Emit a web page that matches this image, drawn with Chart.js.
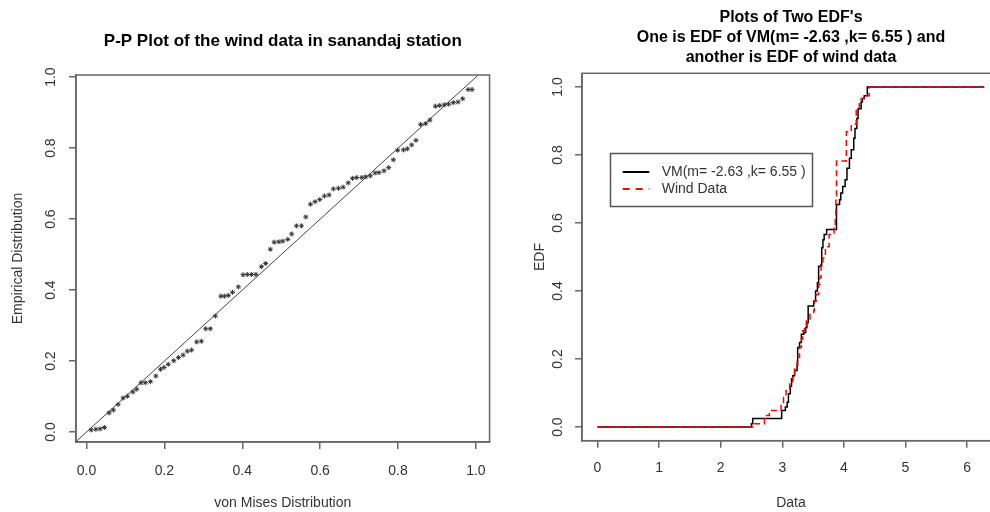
<!DOCTYPE html>
<html>
<head>
<meta charset="utf-8">
<script src="https://cdn.jsdelivr.net/npm/chart.js@4.4.1/dist/chart.umd.min.js"></script>
<style>
    body { margin: 0; background: #ffffff; overflow: hidden; width: 990px; height: 512px; position: relative; }
    #ladoEsquerdo { position: absolute; left: 0; top: 0; width: 500px; height: 512px; }
    #ladoDireito { position: absolute; left: 500px; top: 0; width: 510px; height: 512px; }
</style>
</head>
<body>
<div id="ladoEsquerdo"><canvas id="ppChart"></canvas></div>
<div id="ladoDireito"><canvas id="edfChart"></canvas></div>
<script>
// P-P plot: von Mises CDF (x) against empirical CDF (y)
const ppTeorico = [0.012, 0.024, 0.035, 0.046, 0.058, 0.069, 0.081, 0.094, 0.105, 0.119,
    0.129, 0.140, 0.151, 0.164, 0.178, 0.190, 0.199, 0.210, 0.224, 0.236,
    0.248, 0.259, 0.270, 0.283, 0.295, 0.306, 0.318, 0.331, 0.345, 0.354,
    0.364, 0.375, 0.390, 0.402, 0.413, 0.424, 0.435, 0.449, 0.460, 0.472,
    0.482, 0.494, 0.504, 0.517, 0.527, 0.539, 0.552, 0.563, 0.575, 0.587,
    0.599, 0.611, 0.623, 0.634, 0.647, 0.659, 0.672, 0.683, 0.694, 0.707,
    0.717, 0.729, 0.741, 0.751, 0.764, 0.776, 0.788, 0.799, 0.814, 0.824,
    0.835, 0.846, 0.858, 0.871, 0.882, 0.896, 0.907, 0.919, 0.930, 0.942,
    0.954, 0.966, 0.980, 0.990];
const ppEmpirico = [0.006, 0.008, 0.009, 0.013, 0.054, 0.062, 0.078, 0.096, 0.101, 0.113,
    0.121, 0.139, 0.139, 0.142, 0.158, 0.177, 0.182, 0.191, 0.201, 0.210,
    0.217, 0.228, 0.231, 0.254, 0.256, 0.291, 0.291, 0.327, 0.383, 0.383,
    0.385, 0.394, 0.409, 0.443, 0.444, 0.444, 0.444, 0.466, 0.475, 0.515,
    0.535, 0.536, 0.538, 0.543, 0.558, 0.581, 0.581, 0.606, 0.642, 0.649,
    0.655, 0.665, 0.668, 0.685, 0.687, 0.690, 0.702, 0.715, 0.717, 0.717,
    0.719, 0.722, 0.730, 0.731, 0.736, 0.745, 0.767, 0.794, 0.795, 0.798,
    0.809, 0.822, 0.867, 0.869, 0.879, 0.918, 0.920, 0.922, 0.924, 0.928,
    0.930, 0.939, 0.965, 0.965];
const diagonal = [-0.1, 1.1];
const ppTicks = [0, 0.2, 0.4, 0.6, 0.8, 1.0];

// EDFs (step functions)
const vmX = [0, 2.50, 2.52, 2.99, 3.05, 3.08, 3.10, 3.13, 3.15, 3.17,
    3.20, 3.24, 3.25, 3.28, 3.31, 3.35, 3.38, 3.40, 3.42, 3.51,
    3.54, 3.57, 3.59, 3.63, 3.64, 3.66, 3.68, 3.72, 3.88, 3.93,
    3.95, 3.98, 4.02, 4.05, 4.09, 4.12, 4.16, 4.18, 4.21, 4.23,
    4.28, 4.30, 4.33, 4.38, 6.28];
const vmY = [0, 0.010, 0.025, 0.049, 0.059, 0.073, 0.098, 0.120, 0.142, 0.151,
    0.166, 0.181, 0.234, 0.249, 0.273, 0.278, 0.293, 0.307, 0.356, 0.371,
    0.400, 0.424, 0.473, 0.478, 0.527, 0.551, 0.566, 0.581, 0.654, 0.668,
    0.688, 0.707, 0.727, 0.761, 0.790, 0.815, 0.849, 0.878, 0.907, 0.936,
    0.956, 0.966, 0.974, 1.0, 1.0];
const ventoX = [0, 2.55, 2.71, 2.79, 2.98, 3.02, 3.06, 3.12, 3.17, 3.20,
    3.24, 3.28, 3.31, 3.33, 3.36, 3.39, 3.45, 3.51, 3.52, 3.55,
    3.59, 3.61, 3.63, 3.66, 3.70, 3.76, 3.84, 3.86, 3.87, 3.88,
    4.04, 4.12, 4.20, 4.25, 4.28, 4.33, 4.41, 6.28];
const ventoY = [0, 0.010, 0.034, 0.049, 0.068, 0.088, 0.107, 0.127, 0.156, 0.180,
    0.205, 0.234, 0.259, 0.283, 0.298, 0.312, 0.332, 0.342, 0.371, 0.390,
    0.420, 0.440, 0.473, 0.497, 0.530, 0.566, 0.585, 0.614, 0.680, 0.782,
    0.868, 0.890, 0.936, 0.956, 0.966, 0.974, 1.0, 1.0];
const dataTicks = [0, 1, 2, 3, 4, 5, 6];
const edfTicks = [0, 0.2, 0.4, 0.6, 0.8, 1.0];
const legendas = ["VM(m= -2.63 ,k= 6.55 )", "Wind Data"];

Chart.defaults.font.family = "'Liberation Sans', Arial, sans-serif";
Chart.defaults.font.size = 14;
Chart.defaults.color = "#333333";

const corEixo = "#666666";

// moldura em volta da area do grafico
const moldura = {
    id: "moldura",
    afterDatasetsDraw(chart) {
        const { ctx, chartArea } = chart;
        ctx.save();
        ctx.strokeStyle = corEixo;
        ctx.lineWidth = 1.5;
        ctx.strokeRect(chartArea.left, chartArea.top, chartArea.right - chartArea.left, chartArea.bottom - chartArea.top);
        ctx.restore();
    }
};

function eixoX(min, max, ticks, altura, padding, titulo, casas) {
    return {
        type: "linear",
        min: min,
        max: max,
        afterBuildTicks: s => { s.ticks = ticks.map(v => ({ value: v })); },
        afterFit: s => { s.height = altura; },
        grid: { drawOnChartArea: false, drawTicks: true, tickLength: 7, color: corEixo, lineWidth: 1.5 },
        border: { display: true, color: corEixo, width: 1.5 },
        ticks: { padding: padding, callback: v => Number(v).toFixed(casas), maxRotation: 0 },
        title: { display: true, text: titulo, padding: { top: 0, bottom: 0 } }
    };
}

function eixoY(min, max, ticks, largura, padding, titulo, padTitulo) {
    return {
        type: "linear",
        min: min,
        max: max,
        afterBuildTicks: s => { s.ticks = ticks.map(v => ({ value: v })); },
        afterFit: s => { s.width = largura; },
        grid: { drawOnChartArea: false, drawTicks: true, tickLength: 7, color: corEixo, lineWidth: 1.5 },
        border: { display: true, color: corEixo, width: 1.5 },
        ticks: { padding: padding, minRotation: 90, maxRotation: 90, crossAlign: "center", callback: v => Number(v).toFixed(1) },
        title: { display: true, text: titulo, padding: { top: padTitulo, bottom: 0 } }
    };
}

new Chart(document.getElementById("ppChart"), {
    type: "scatter",
    data: {
        datasets: [
            {
                label: "P-P",
                data: ppTeorico.map((x, i) => ({ x: x, y: ppEmpirico[i] })),
                pointStyle: "star",
                pointRadius: 2.5,
                borderColor: "#333333",
                backgroundColor: "#333333",
                borderWidth: 1,
                order: 0
            },
            {
                type: "line",
                label: "y = x",
                data: diagonal.map(v => ({ x: v, y: v })),
                borderColor: "#444444",
                borderWidth: 1,
                pointRadius: 0,
                order: 1
            }
        ]
    },
    options: {
        animation: false,
        responsive: true,
        maintainAspectRatio: false,
        devicePixelRatio: 1,
        layout: { padding: { right: 3 } },
        plugins: {
            legend: { display: false },
            tooltip: { enabled: false },
            title: {
                display: true,
                text: "P-P Plot of the wind data in sanandaj station",
                fullSize: false,
                color: "#000000",
                font: { size: 17, weight: "bold" },
                padding: { top: 30.8, bottom: 23.8 }
            }
        },
        scales: {
            x: eixoX(-0.027, 1.035, ppTicks, 70, 14, "von Mises Distribution", 1),
            y: eixoY(-0.028, 1.006, ppTicks, 76, 8, "Empirical Distribution", 10)
        }
    },
    plugins: [moldura]
});

// legenda desenhada dentro da area do grafico
const legendaEdf = {
    id: "legendaEdf",
    afterDraw(chart) {
        const ctx = chart.ctx;
        const x0 = 110, y0 = 153;
        ctx.save();
        ctx.strokeStyle = "#555555";
        ctx.lineWidth = 1.5;
        ctx.strokeRect(x0 + 0.5, y0 + 0.5, 202, 53);

        const estilos = [
            { cor: chart.data.datasets[1].borderColor, dash: [] },
            { cor: chart.data.datasets[0].borderColor, dash: [7, 6] }
        ];
        for (let i = 0; i < legendas.length; i++) {
            const y = y0 + 19 + i * 17;
            ctx.beginPath();
            ctx.setLineDash(estilos[i].dash);
            ctx.strokeStyle = estilos[i].cor;
            ctx.lineWidth = 2;
            ctx.moveTo(x0 + 12.7, y);
            ctx.lineTo(x0 + 39.3, y);
            ctx.stroke();
            ctx.setLineDash([]);
            ctx.fillStyle = "#333333";
            ctx.font = "14px 'Liberation Sans', Arial, sans-serif";
            ctx.textBaseline = "middle";
            ctx.textAlign = "left";
            ctx.fillText(legendas[i], x0 + 51.7, y);
        }
        ctx.restore();
    }
};

new Chart(document.getElementById("edfChart"), {
    type: "line",
    data: {
        datasets: [
            {
                label: legendas[1],
                data: ventoX.map((x, i) => ({ x: x, y: ventoY[i] })),
                stepped: "before",
                borderColor: "#ff0000",
                borderWidth: 1.5,
                borderDash: [6, 4],
                pointRadius: 0,
                order: 0
            },
            {
                label: legendas[0],
                data: vmX.map((x, i) => ({ x: x, y: vmY[i] })),
                stepped: "before",
                borderColor: "#000000",
                borderWidth: 1.5,
                pointRadius: 0,
                order: 1
            }
        ]
    },
    options: {
        animation: false,
        responsive: true,
        maintainAspectRatio: false,
        devicePixelRatio: 1,
        layout: { padding: { right: 10 } },
        plugins: {
            legend: { display: false },
            tooltip: { enabled: false },
            title: {
                display: true,
                text: ["Plots of Two EDF's", "One is EDF of VM(m= -2.63 ,k= 6.55 ) and", "another is EDF of wind data"],
                fullSize: false,
                color: "#000000",
                font: { size: 16, weight: "bold", lineHeight: "20px" },
                padding: { top: 8, bottom: 5.3 }
            }
        },
        scales: {
            x: eixoX(-0.251, 6.534, dataTicks, 71.3, 12, "Data", 0),
            y: eixoY(-0.04, 1.04, edfTicks, 82, 7, "EDF", 32)
        }
    },
    plugins: [moldura, legendaEdf]
});
</script>
</body>
</html>
